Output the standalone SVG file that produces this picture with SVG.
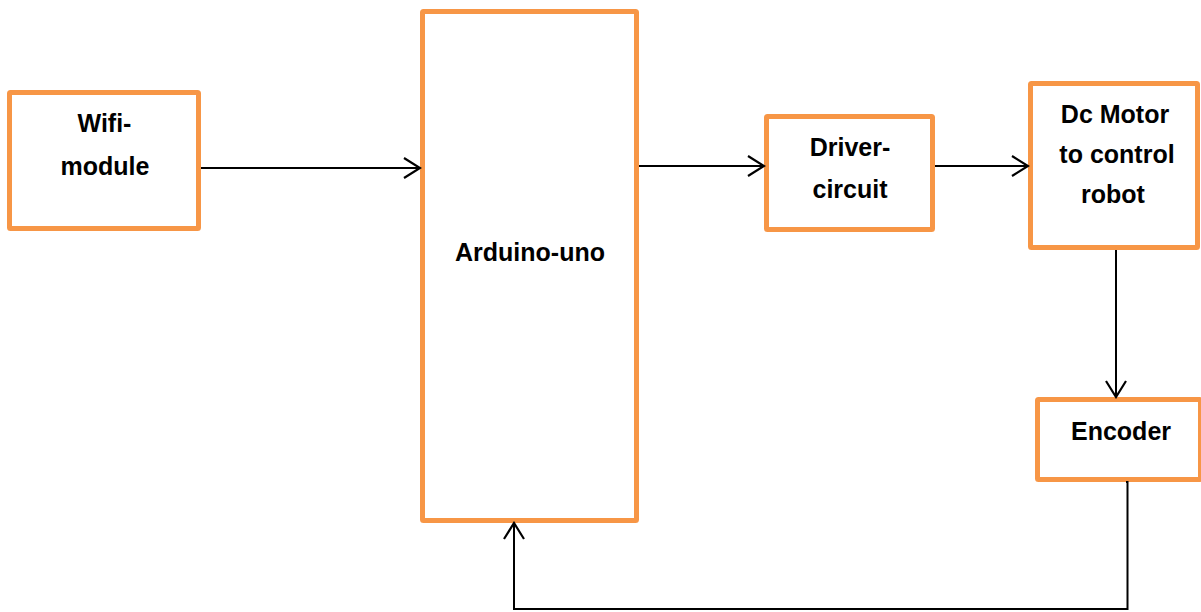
<svg xmlns="http://www.w3.org/2000/svg" width="1201" height="612" viewBox="0 0 1201 612">
<style>
.box{fill:#fff;stroke:#F79646;stroke-width:5}
.lbl{font-family:"Liberation Sans",Arial,sans-serif;font-weight:bold;font-size:25px;fill:#000;text-anchor:middle}
.con{fill:none;stroke:#000;stroke-width:2}
</style>
<defs>
<marker id="arr" markerUnits="userSpaceOnUse" markerWidth="20" markerHeight="24" viewBox="-18 -12 20 24" refX="0" refY="0" orient="auto">
<path d="M-16,-10 L0,0 L-16,10" fill="none" stroke="#000" stroke-width="2.2"/>
</marker>
</defs>
<rect width="1201" height="612" fill="#fff"/>
<g id="wifi">
<rect class="box" x="9.5" y="92.5" width="189" height="136" rx="1"/>
<text class="lbl" x="104.5" y="132">Wifi-</text>
<text class="lbl" x="105" y="175">module</text>
</g>
<g id="arduino">
<rect class="box" x="422.5" y="11.5" width="214" height="509" rx="1"/>
<text class="lbl" x="530" y="261">Arduino-uno</text>
</g>
<g id="driver">
<rect class="box" x="766.5" y="116.5" width="166" height="113" rx="1"/>
<text class="lbl" x="850" y="156">Driver-</text>
<text class="lbl" x="850" y="198">circuit</text>
</g>
<g id="dcmotor">
<rect class="box" x="1030.5" y="83.5" width="167" height="164" rx="1"/>
<text class="lbl" x="1115" y="123">Dc Motor</text>
<text class="lbl" x="1117" y="163">to control</text>
<text class="lbl" x="1113" y="203">robot</text>
</g>
<g id="encoder">
<rect class="box" x="1037.5" y="399.5" width="163" height="80" rx="1"/>
<text class="lbl" x="1121" y="440">Encoder</text>
</g>
<g id="connectors">
<line class="con" x1="201" y1="168" x2="420" y2="168" marker-end="url(#arr)"/>
<line class="con" x1="639" y1="166" x2="764" y2="166" marker-end="url(#arr)"/>
<line class="con" x1="935" y1="166" x2="1028" y2="166" marker-end="url(#arr)"/>
<line class="con" x1="1116" y1="250" x2="1116" y2="397" marker-end="url(#arr)"/>
<path class="con" d="M1126,482 H1127.5 V609 H514 V523" stroke-width="1.8" marker-end="url(#arr)"/>
</g>
</svg>
